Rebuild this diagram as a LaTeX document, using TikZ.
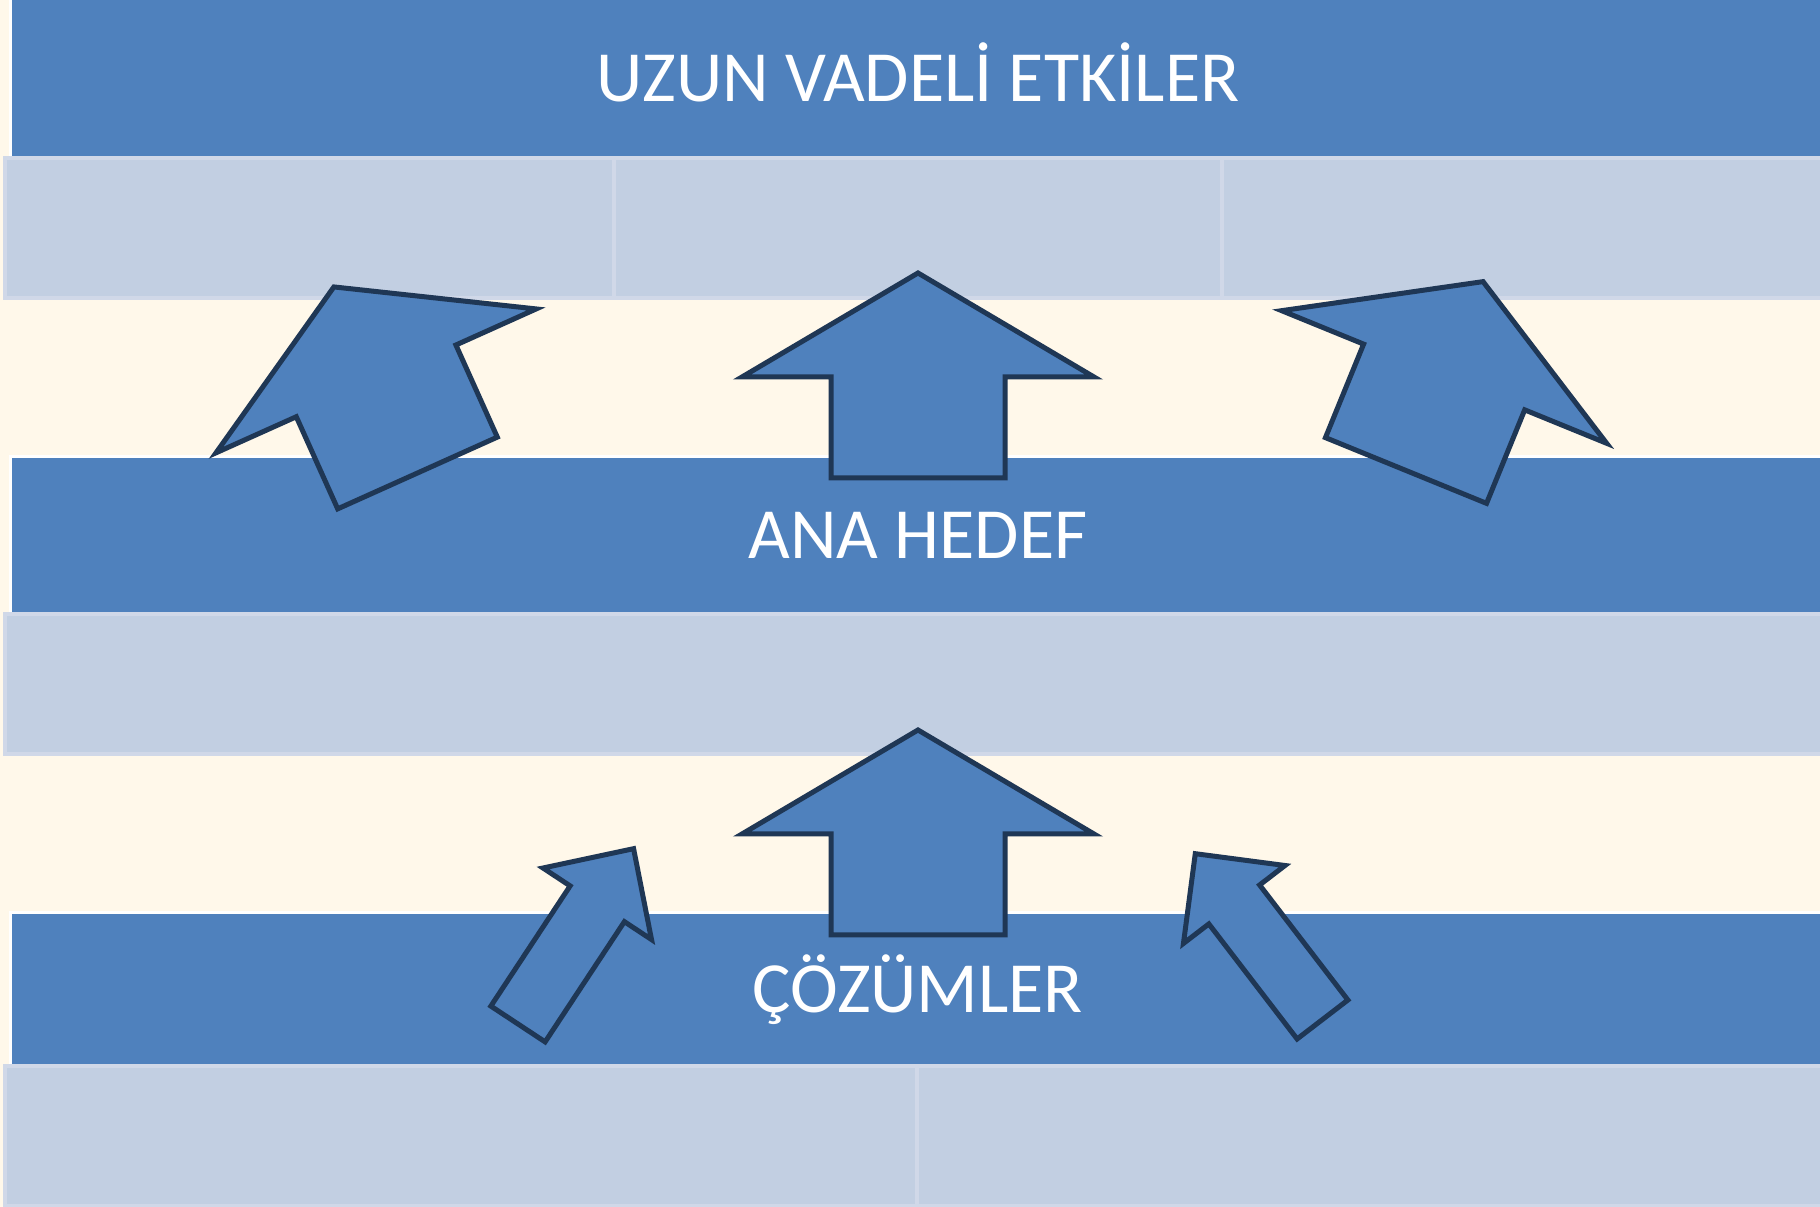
\documentclass[tikz,border=0pt]{standalone}
\usepackage{fontspec}
\setmainfont{Carlito}
\usetikzlibrary{positioning}

\definecolor{bandblue}{RGB}{79,129,189}
\definecolor{cellfill}{RGB}{194,207,226}
\definecolor{cellline}{RGB}{208,216,232}
\definecolor{cream}{RGB}{255,248,234}
\definecolor{arrowline}{RGB}{31,55,85}

\tikzset{
    band/.style={fill=bandblue,draw=white,line width=0.03cm,outer sep=0pt,minimum width=18.16cm,
        text=white,font=\fontsize{20.5pt}{24pt}\selectfont,text height=0.47cm,text depth=0pt},
    cell/.style={fill=cellfill,draw=cellline,line width=0.04cm,outer sep=0pt,minimum height=1.40cm},
    pics/blockarrow/.style n args={4}{code={
        \filldraw[fill=bandblue,draw=arrowline,line width=0.05cm]
            (-#4/2,0) -- (-#4/2,#1-#2) -- (-#3/2,#1-#2) -- (0,#1) -- (#3/2,#1-#2)
            -- (#4/2,#1-#2) -- (#4/2,0) -- cycle;
    }}
}

\begin{document}
\begin{tikzpicture}
    \useasboundingbox (0,0) rectangle (18.2,-12.07);
    \clip (0,0) rectangle (18.2,-12.07);
    \fill[cream] (0,0) rectangle (18.2,-12.07);

    \node[band,anchor=north west,minimum height=1.60cm] (uzun) at (0.10,0.02) {UZUN VADELİ ETKİLER};
    \node[band,anchor=north west,minimum height=1.57cm] (hedef) at (0.10,-4.57) {ANA HEDEF};
    \node[band,anchor=north west,minimum height=1.53cm] (cozum) at (0.10,-9.13) {ÇÖZÜMLER};

    \node[cell,anchor=north west,minimum width=6.09cm] (etki1) at (0.05,-1.58) {};
    \node[cell,right=0pt of etki1,minimum width=6.08cm] (etki2) {};
    \node[cell,right=0pt of etki2,minimum width=6.05cm] (etki3) {};
    \node[cell,anchor=north west,minimum width=18.2cm] (hedefalt) at (0.05,-6.14) {};
    \node[cell,anchor=north west,minimum width=9.12cm] (cozum1) at (0.05,-10.66) {};
    \node[cell,right=0pt of cozum1,minimum width=9.1cm] (cozum2) {};

    \pic at (9.18,-4.78) {blockarrow={2.05}{1.04}{3.52}{1.74}};
    \pic[rotate=24.2] at (4.175,-4.73) {blockarrow={2.04}{1.03}{3.51}{1.75}};
    \pic[rotate=-22.2] at (14.06,-4.705) {blockarrow={2.04}{1.03}{3.51}{1.74}};
    \pic at (9.18,-9.35) {blockarrow={2.05}{1.04}{3.52}{1.74}};
    \pic[rotate=-33.4] at (5.18,-10.24) {blockarrow={2.10}{0.66}{1.30}{0.65}};
    \pic[rotate=37.5] at (13.225,-10.195) {blockarrow={2.09}{0.64}{1.28}{0.64}};
\end{tikzpicture}
\end{document}
